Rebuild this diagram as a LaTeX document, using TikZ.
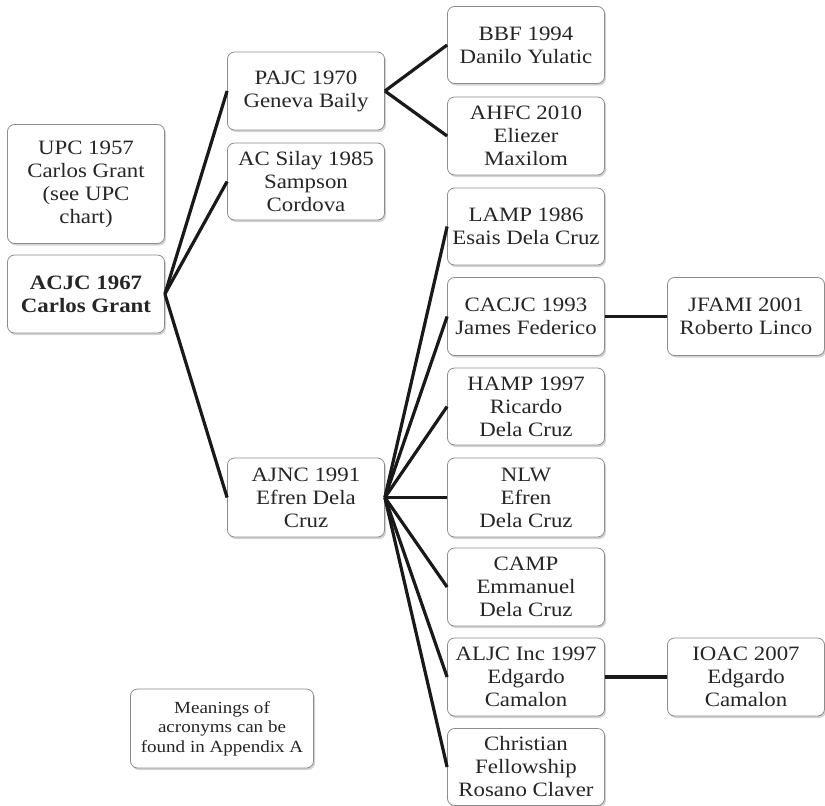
\documentclass[tikz,border=0pt]{standalone}
\usepackage{fontspec}
\setmainfont[FakeStretch=1.12]{Liberation Serif}
\usetikzlibrary{shadows}
\begin{document}
\begin{tikzpicture}[x=1pt,y=-1pt,
  box/.style={draw=black!45, line width=0.8pt, rounded corners=7pt, fill=white,
    drop shadow={opacity=0.35, shadow xshift=1.5pt, shadow yshift=-2pt},
    minimum width=157pt, minimum height=78pt, inner sep=0pt, align=center,
    text=black!85, font=\fontsize{20.4}{23}\selectfont},
  smallbox/.style={box, font=\fontsize{17}{19.5}\selectfont},
  link/.style={line width=3.2pt, black!90}]
\useasboundingbox (0,0) rectangle (825,806);
\node[box, minimum height=119pt] (upc) at (86,184) {UPC 1957\\Carlos Grant\\(see UPC\\chart)};
\node[box, font=\fontsize{20.4}{23}\selectfont\bfseries] (acjc) at (86,294) {ACJC 1967\\Carlos Grant};
\node[box] (pajc) at (306,91) {PAJC 1970\\Geneva Baily};
\node[box, minimum height=77pt] (acs) at (306,181.5) {AC Silay 1985\\Sampson\\Cordova};
\node[box, minimum height=77pt] (bbf) at (526,45) {BBF 1994\\Danilo Yulatic};
\node[box] (ahfc) at (526,136) {AHFC 2010\\Eliezer\\Maxilom};
\node[box, minimum height=77pt] (lamp) at (526,226.5) {LAMP 1986\\Esais Dela Cruz};
\node[box] (cacjc) at (526,316.5) {CACJC 1993\\James Federico};
\node[box] (jfami) at (746,316.5) {JFAMI 2001\\Roberto Linco};
\node[box, minimum height=77pt] (hamp) at (526,406.5) {HAMP 1997\\Ricardo\\Dela Cruz};
\node[box, minimum height=79pt] (ajnc) at (306,497.5) {AJNC 1991\\Efren Dela\\Cruz};
\node[box, minimum height=79pt] (nlw) at (526,497.5) {NLW\\Efren\\Dela Cruz};
\node[box] (camp) at (526,587) {CAMP\\Emmanuel\\Dela Cruz};
\node[box] (aljc) at (526,677) {ALJC Inc 1997\\Edgardo\\Camalon};
\node[box] (ioac) at (746,677) {IOAC 2007\\Edgardo\\Camalon};
\node[box, minimum height=77pt] (cf) at (526,767) {Christian\\Fellowship\\Rosano Claver};
\node[smallbox, minimum width=183pt, minimum height=79pt] (mean) at (222,728.5) {Meanings of\\acronyms can be\\found in Appendix A};
\foreach \t in {pajc,acs,ajnc} \draw[link] (acjc.east) -- (\t.west);
\foreach \t in {bbf,ahfc} \draw[link] (pajc.east) -- (\t.west);
\foreach \t in {lamp,cacjc,hamp,nlw,camp,aljc,cf} \draw[link] (ajnc.east) -- (\t.west);
\draw[link] (cacjc.east) -- (jfami.west);
\draw[link] (aljc.east) -- (ioac.west);
\end{tikzpicture}
\end{document}
